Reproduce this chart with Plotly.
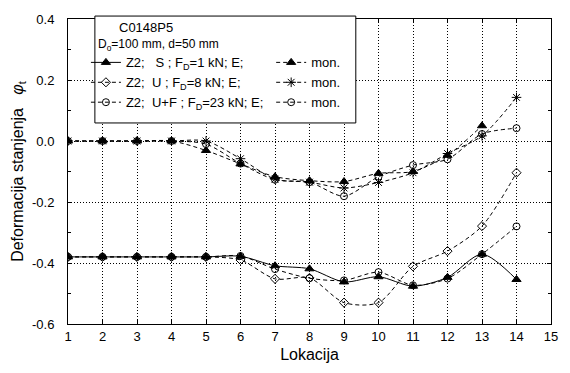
import plotly.graph_objects as go

locations = list(range(1, 15))

# Z2 - E (lower group)
s_e = [-0.38, -0.38, -0.38, -0.38, -0.38, -0.378, -0.409, -0.419, -0.462, -0.445, -0.476, -0.447, -0.371, -0.454]
u_e = [-0.38, -0.38, -0.38, -0.38, -0.38, -0.39, -0.452, -0.449, -0.53, -0.53, -0.411, -0.361, -0.279, -0.104]
uf_e = [-0.38, -0.38, -0.38, -0.38, -0.38, -0.377, -0.42, -0.45, -0.457, -0.43, -0.473, -0.451, -0.371, -0.28]

# mon. (upper group)
s_mon = [0.0, 0.0, 0.0, 0.0, -0.031, -0.075, -0.117, -0.13, -0.133, -0.106, -0.10, -0.047, 0.05, None]
u_mon = [0.0, 0.0, 0.0, 0.0, 0.0, -0.058, -0.125, -0.135, -0.154, -0.136, -0.104, -0.041, 0.017, 0.143]
uf_mon = [0.0, 0.0, 0.0, 0.0, -0.01, -0.074, -0.127, -0.135, -0.181, -0.117, -0.079, -0.06, 0.023, 0.042]

x_ticks = list(range(1, 16))
y_ticks = [-0.6, -0.4, -0.2, 0.0, 0.2, 0.4]
y_tick_labels = ["-0.6", "-0.4", "-0.2", "0.0", "0.2", "0.4"]

NB = "\u00a0"
names_e = [f"Z2;{NB*3}S{NB}; F<sub>D</sub>=1 kN; E;",
           f"Z2;{NB}{NB}U{NB}; F<sub>D</sub>=8 kN; E;",
           f"Z2;{NB}{NB}U+F{NB}; F<sub>D</sub>=23{NB}kN;{NB}E;"]

FONT = "Liberation Sans, Arial, sans-serif"
DASH = "4px,3px"

fig = go.Figure()

def add(y, name, symbol, dash, legend, size=7, color_fill="black"):
    fig.add_trace(go.Scatter(
        x=locations, y=y, name=name, mode="lines+markers",
        line=dict(color="black", width=1, dash=dash, shape="spline", smoothing=0.8),
        marker=dict(symbol=symbol, size=size, color=color_fill,
                    line=dict(color="black", width=1)),
        legend=legend, connectgaps=False,
    ))

add(s_e, names_e[0], "triangle-up", "solid", "legend", size=8)
add(u_e, names_e[1], "diamond-open", DASH, "legend", size=7)
add(uf_e, names_e[2], "circle-open", DASH, "legend", size=7)
add(s_mon, "mon.", "triangle-up", DASH, "legend2", size=8)
add(u_mon, "mon.", "asterisk-open", DASH, "legend2", size=8)
add(uf_mon, "mon.", "circle-open", DASH, "legend2", size=7)

axis_common = dict(
    showline=True, linecolor="black", linewidth=1, mirror="ticks",
    ticks="inside", ticklen=4, tickcolor="black",
    showgrid=True, gridcolor="black", griddash="1px,2px", gridwidth=1,
    zeroline=False, tickfont=dict(family=FONT, size=13, color="black"),
)

fig.update_xaxes(range=[1, 15], tickvals=x_ticks,
                 title=dict(text="Lokacija", font=dict(family=FONT, size=16, color="black"), standoff=6),
                 **axis_common)
fig.update_yaxes(range=[-0.6, 0.4], tickvals=y_ticks, ticktext=y_tick_labels,
                 ticklabelstandoff=10,
                 minor=dict(dtick=0.1, ticks="inside", ticklen=3, tickcolor="black", showgrid=False),
                 title=dict(text=f"Deformacija stanjenja{NB*3}<i>φ</i><sub>t</sub>",
                            font=dict(family=FONT, size=16, color="black"), standoff=4),
                 **axis_common)

fig.add_shape(type="rect", xref="paper", yref="paper",
              x0=(95 - 68) / 485, x1=(357 - 68) / 485,
              y0=(327 - 122) / 311, y1=(327 - 13) / 311,
              line=dict(color="black", width=1), fillcolor="white", layer="above")

fig.add_annotation(xref="paper", yref="paper", x=(117 - 68) / 485, y=(327 - 25) / 311,
                   text="C0148P5", showarrow=False, xanchor="left", yanchor="middle",
                   font=dict(family=FONT, size=13, color="black"))
fig.add_annotation(xref="paper", yref="paper", x=(96 - 68) / 485, y=(327 - 43) / 311,
                   text="D<sub>o</sub>=100 mm, d=50 mm", showarrow=False, xanchor="left", yanchor="middle",
                   font=dict(family=FONT, size=12, color="black"))

legend_common = dict(
    bgcolor="rgba(0,0,0,0)", borderwidth=0, itemwidth=30, tracegroupgap=0,
    font=dict(family=FONT, size=13, color="black"), yanchor="top", xanchor="left",
)

fig.update_layout(
    width=570, height=373,
    margin=dict(l=68, r=17, t=16, b=46),
    paper_bgcolor="white", plot_bgcolor="white",
    font=dict(family=FONT, size=13, color="black"),
    legend=dict(x=(86 - 68) / 485, y=(327 - 45) / 311, **legend_common),
    legend2=dict(x=(272 - 68) / 485, y=(327 - 45) / 311, **legend_common),
)

fig.write_html("out.html")
